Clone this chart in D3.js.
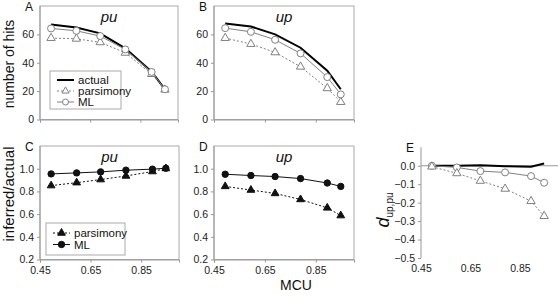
<!DOCTYPE html>
<html>
<head>
<meta charset="utf-8">
<script src="https://cdn.jsdelivr.net/npm/d3@7"></script>
<style>
  body { margin: 0; background: #fff; }
  svg { font-family: "Liberation Sans", Arial, sans-serif; }
  .tick text { font-size: 10.5px; fill: #222; }
  .axis path, .axis line { stroke: #999; }
</style>
</head>
<body>
<div id="chart"></div>
<script>
// MCU values shared by every panel
const mcu = [0.494, 0.595, 0.690, 0.790, 0.895, 0.948];

// A: pu, number of hits
const puActual = [67.0, 64.9, 60.7, 50.1, 33.7, 21.3];
const puParsimony = [57.4, 56.9, 54.4, 47.0, 32.0, 21.0];
const puML = [64.2, 62.5, 58.8, 49.4, 33.5, 21.3];

// B: up, number of hits
const upActual = [67.7, 65.6, 60.0, 50.6, 34.4, 21.3];
const upParsimony = [57.4, 53.2, 47.3, 37.2, 22.0, 12.3];
const upML = [64.4, 61.8, 56.2, 46.6, 29.9, 17.7];

// C / D: inferred / actual
const puRatioParsimony = [0.851, 0.877, 0.904, 0.936, 0.975, 1.002];
const puRatioML = [0.954, 0.963, 0.972, 0.987, 0.996, 1.004];
const upRatioParsimony = [0.844, 0.812, 0.782, 0.729, 0.655, 0.587];
const upRatioML = [0.951, 0.940, 0.931, 0.913, 0.874, 0.844];

// E: d up,pu
const dActual = [0.0, 0.0, 0.003, -0.003, -0.005, 0.012];
const dParsimony = [-0.005, -0.041, -0.082, -0.125, -0.192, -0.273];
const dML = [0.0, -0.009, -0.029, -0.036, -0.056, -0.092];

const xTicks = [0.45, 0.65, 0.85];
const hitTicks = [0, 20, 40, 60];
const ratioTicks = [0.2, 0.4, 0.6, 0.8, 1.0];
const dTicks = [0.0, -0.1, -0.2, -0.3, -0.4, -0.5];

const svg = d3.select("#chart").append("svg")
    .attr("width", 558)
    .attr("height", 297);

const grey = "#808080";

function drawPanel(p) {
    let x = d3.scaleLinear().domain([0.45, 1.0]).range([p.left, p.right]);
    let y = d3.scaleLinear().domain(p.yDomain).range([p.bottom, p.top]);

    if (p.box) {
        svg.append("rect")
            .attr("x", p.left).attr("y", p.top)
            .attr("width", p.right - p.left).attr("height", p.bottom - p.top)
            .attr("fill", "none").attr("stroke", "#aaa");
    }

    let xAxis = d3.axisBottom(x).tickValues(xTicks).tickSizeOuter(0).tickSize(3).tickPadding(4)
        .tickFormat(p.xLabels ? d3.format(".2f") : "");
    let gx = svg.append("g").attr("class", "axis")
        .attr("transform", `translate(0,${p.bottom})`)
        .call(xAxis);
    if (p.noBottomLine) {
        gx.select(".domain").remove();
        gx.selectAll(".tick line").remove();
    }

    let yAxis = d3.axisLeft(y).tickValues(p.yTicks).tickSizeOuter(0).tickSize(3).tickPadding(3)
        .tickFormat(p.yFormat);
    svg.append("g").attr("class", "axis")
        .attr("transform", `translate(${p.left},0)`)
        .call(yAxis)
        .select(".domain").attr("d", `M0,${p.top}V${p.bottom}`);

    if (p.zeroLine) {
        svg.append("line")
            .attr("x1", p.left).attr("x2", 558)
            .attr("y1", y(0)).attr("y2", y(0))
            .attr("stroke", "#999");
    }

    // panel letter
    svg.append("text")
        .attr("x", p.left - 15).attr("y", p.top + 5)
        .attr("font-size", 12).attr("fill", "#111")
        .text(p.letter);

    if (p.title) {
        svg.append("text")
            .attr("x", (p.left + p.right) / 2).attr("y", p.top + 16)
            .attr("text-anchor", "middle")
            .attr("font-size", 15).attr("font-style", "italic").attr("fill", "#111")
            .text(p.title);
    }

    let line = d3.line().x((d, i) => x(mcu[i])).y(d => y(d));

    p.series.forEach(s => {
        svg.append("path")
            .datum(s.values)
            .attr("fill", "none")
            .attr("stroke", s.color)
            .attr("stroke-width", s.width)
            .attr("stroke-dasharray", s.dash || null)
            .attr("d", line);

        if (s.marker === "circle") {
            svg.selectAll(null).data(s.values).enter()
                .append("circle")
                .attr("cx", (d, i) => x(mcu[i]))
                .attr("cy", d => y(d))
                .attr("r", s.filled ? 3.2 : 3.5)
                .attr("fill", s.filled ? s.color : "#fff")
                .attr("stroke", s.color);
        } else if (s.marker === "triangle") {
            svg.selectAll(null).data(s.values).enter()
                .append("path")
                .attr("transform", (d, i) => `translate(${x(mcu[i])},${y(d)})`)
                .attr("d", d3.symbol(d3.symbolTriangle, s.filled ? 26 : 30))
                .attr("fill", s.filled ? s.color : "#fff")
                .attr("stroke", s.color);
        }
    });
}

const hitSeries = (act, par, ml) => [
    {values: act, color: "#000", width: 2},
    {values: par, color: grey, width: 1, dash: "2,2", marker: "triangle"},
    {values: ml, color: grey, width: 1, marker: "circle"}
];

drawPanel({letter: "A", title: "pu", left: 40, right: 178, top: 6, bottom: 119.5,
    yDomain: [0, 80], yTicks: hitTicks, yFormat: d3.format("d"), box: true,
    series: hitSeries(puActual, puParsimony, puML)});
drawPanel({letter: "B", title: "up", left: 214, right: 354, top: 6, bottom: 119.5,
    yDomain: [0, 80], yTicks: hitTicks, yFormat: d3.format("d"), box: true,
    series: hitSeries(upActual, upParsimony, upML)});

const ratioSeries = (par, ml) => [
    {values: par, color: "#111", width: 1, dash: "2,2", marker: "triangle", filled: true},
    {values: ml, color: "#111", width: 1, marker: "circle", filled: true}
];

drawPanel({letter: "C", title: "pu", left: 40, right: 179, top: 146, bottom: 259.5,
    yDomain: [0.2, 1.2], yTicks: ratioTicks, yFormat: d3.format(".1f"), box: true, xLabels: true,
    series: ratioSeries(puRatioParsimony, puRatioML)});
drawPanel({letter: "D", title: "up", left: 214, right: 354, top: 146, bottom: 259.5,
    yDomain: [0.2, 1.2], yTicks: ratioTicks, yFormat: d3.format(".1f"), box: true, xLabels: true,
    series: ratioSeries(upRatioParsimony, upRatioML)});

drawPanel({letter: "E", left: 421, right: 557, top: 147.3, bottom: 258,
    yDomain: [-0.5, 0.1], yTicks: dTicks, yFormat: d3.format(".1f"), xLabels: true,
    noBottomLine: true, zeroLine: true,
    series: [
        {values: dActual, color: "#000", width: 2},
        {values: dML, color: grey, width: 1, marker: "circle"},
        {values: dParsimony, color: grey, width: 1, dash: "2,2", marker: "triangle"}
    ]});

// legends
function legend(lx, ly, w, h, items) {
    svg.append("rect").attr("x", lx).attr("y", ly).attr("width", w).attr("height", h)
        .attr("fill", "#fff").attr("stroke", "#aaa");
    items.forEach((it, i) => {
        let cy = ly + it.dy;
        svg.append("line")
            .attr("x1", lx + 7).attr("x2", lx + 24)
            .attr("y1", cy).attr("y2", cy)
            .attr("stroke", it.color).attr("stroke-width", it.width)
            .attr("stroke-dasharray", it.dash || null);
        let mx = lx + 15.5;
        if (it.marker === "circle") {
            svg.append("circle").attr("cx", mx).attr("cy", cy).attr("r", it.filled ? 3.2 : 3)
                .attr("fill", it.filled ? it.color : "#fff").attr("stroke", it.color);
        } else if (it.marker === "triangle") {
            svg.append("path").attr("transform", `translate(${mx},${cy})`)
                .attr("d", d3.symbol(d3.symbolTriangle, it.filled ? 26 : 22))
                .attr("fill", it.filled ? it.color : "#fff").attr("stroke", it.color);
        }
        svg.append("text").attr("x", lx + 28).attr("y", cy + 4)
            .attr("font-size", 11.5).attr("fill", "#111").text(it.label);
    });
}

legend(50, 71, 71, 38, [
    {label: "actual", color: "#000", width: 2, dy: 9},
    {label: "parsimony", color: grey, width: 1, dash: "2,2", marker: "triangle", dy: 20},
    {label: "ML", color: grey, width: 1, marker: "circle", dy: 31}
]);
legend(46, 223, 79, 32, [
    {label: "parsimony", color: "#111", width: 1, dash: "2,2", marker: "triangle", filled: true, dy: 10},
    {label: "ML", color: "#111", width: 1, marker: "circle", filled: true, dy: 21.5}
]);

// axis titles
svg.append("text")
    .attr("transform", "translate(14,64) rotate(-90)")
    .attr("text-anchor", "middle").attr("font-size", 14).attr("fill", "#111")
    .text("number of hits");
svg.append("text")
    .attr("transform", "translate(14,194) rotate(-90)")
    .attr("text-anchor", "middle").attr("font-size", 15).attr("fill", "#111")
    .text("inferred/actual");
svg.append("text")
    .attr("x", 296).attr("y", 290)
    .attr("text-anchor", "middle").attr("font-size", 14).attr("fill", "#111")
    .text("MCU");

let dLabel = svg.append("text")
    .attr("transform", "translate(389,210) rotate(-90)")
    .attr("text-anchor", "middle").attr("fill", "#111");
dLabel.append("tspan").attr("font-size", 18).attr("font-style", "italic").text("d");
dLabel.append("tspan").attr("font-size", 10).attr("dy", 4).text("up,pu");
</script>
</body>
</html>
